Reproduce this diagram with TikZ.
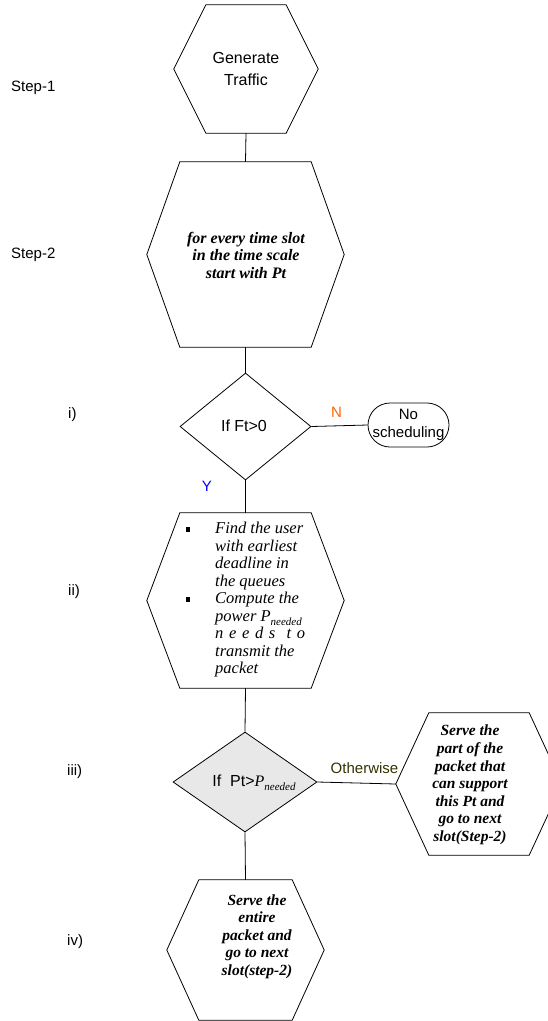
\documentclass[tikz,border=0pt]{standalone}
\usepackage{fontspec}
\setmainfont{Liberation Serif}
\setsansfont{Liberation Sans}
\usetikzlibrary{calc,shapes.geometric}
\newcommand{\hexoutline}[2]{\draw[conn] ($(#1.north west)+(#2,0)$) -- ($(#1.north east)+(-#2,0)$) -- (#1.east) -- ($(#1.south east)+(-#2,0)$) -- ($(#1.south west)+(#2,0)$) -- (#1.west) -- cycle;}
\newcommand{\bul}{\makebox[29pt][l]{\rule[1.5pt]{4pt}{5pt}}}
\newcommand{\ind}{\hspace*{29pt}}
\begin{document}
\begin{tikzpicture}[x=1pt,y=-1pt,
  conn/.style={draw=black, line width=0.8pt},
  hexbox/.style={rectangle, inner sep=0pt, draw=none},
  hextext/.style={align=center, inner sep=0pt, font=\fontsize{15.5}{17.6}\selectfont\bfseries\itshape},
  dia/.style={diamond, inner sep=0pt, conn},
  sanslabel/.style={inner sep=0pt, font=\sffamily\fontsize{15}{17}\selectfont},
  steplabel/.style={sanslabel, anchor=west},
  term/.style={conn, rectangle, rounded corners=22pt, inner sep=0pt, align=center, font=\sffamily\fontsize{15}{18}\selectfont}
]
\useasboundingbox[fill=white] (0,0) rectangle (547,1021);

% step labels
\node[steplabel] (s1) at (11,88) {Step-1};
\node[steplabel] (s2) at (11,255) {Step-2};
\node[steplabel] (s3) at (68,415) {i)};
\node[steplabel] (s4) at (68,592) {ii)};
\node[steplabel] (s5) at (67,772) {iii)};
\node[steplabel] (s6) at (67,942) {iv)};

% hexagon 1
\node[hexbox, minimum width=144, minimum height=128] (h1) at (246,69) {};
\hexoutline{h1}{32}
\node[align=center, inner sep=0pt, font=\sffamily\fontsize{16}{22.5}\selectfont] (t1) at (246,69) {Generate\\Traffic};

% hexagon 2
\node[hexbox, minimum width=197, minimum height=185] (h2) at (245.5,254.5) {};
\hexoutline{h2}{33}
\node[hextext, font=\fontsize{16}{17.5}\selectfont\bfseries\itshape] (t2) at (246,255) {for every time slot\\in the time scale\\start with Pt};

% diamond 1
\node[dia, minimum width=131, minimum height=107] (d1) at (245.5,426.5) {};
\node[sanslabel, font=\sffamily\fontsize{16}{18}\selectfont] (t3) at (244,426) {If Ft>0};

% terminator
\node[term, minimum width=81, minimum height=44] (nos) at (408.5,425) {No\\scheduling};

% hexagon 3
\node[hexbox, minimum width=197, minimum height=175] (h3) at (245.5,600.5) {};
\hexoutline{h3}{33}
\node[anchor=west, align=left, inner sep=0pt, font=\fontsize{16.5}{17.5}\selectfont\itshape] (t4) at (186,600) {%
\bul Find the user\\
\ind with earliest\\
\ind deadline in\\
\ind the queues\\
\bul Compute the\\
\ind power P\raisebox{-4pt}{\fontsize{11}{11}\selectfont needed}\\
\ind\makebox[90pt][s]{n\hfill e\hfill e\hfill d\hfill s\hfill\hfill t\hfill o}\\
\ind transmit the\\
\ind packet};

% diamond 2
\node[dia, fill=black!9, minimum width=144, minimum height=100] (d2) at (245,782) {};
\node[sanslabel, font=\sffamily\fontsize{16}{18}\selectfont] (t5) at (254,783) {If\ \ Pt>{\rmfamily\itshape P}\raisebox{-4pt}{\rmfamily\itshape\fontsize{11}{11}\selectfont needed}};

% hexagon 4
\node[hexbox, minimum width=166, minimum height=142] (h4) at (479,784) {};
\hexoutline{h4}{33}
\node[hextext] (t6) at (470,785) {Serve the\\part of the\\packet that\\can support\\this Pt and\\go to next\\slot(Step-2)};

% hexagon 5
\node[hexbox, minimum width=157, minimum height=140] (h5) at (245.5,950) {};
\hexoutline{h5}{32}
\node[hextext] (t7) at (257,936.5) {Serve the\\entire\\packet and\\go to next\\slot(step-2)};

% connectors
\draw[conn] (h1.south) -- (h2.north);
\draw[conn] (h2.south) -- (d1.north);
\draw[conn] (d1.south) -- (h3.north);
\draw[conn] (h3.south) -- (d2.north);
\draw[conn] (d2.south) -- (h5.north);
\draw[conn] (d1.east) -- (nos.west);
\draw[conn] (d2.east) -- (h4.west);

% branch labels
\node[sanslabel, anchor=west, text={rgb,255:red,255;green,102;blue,0}] (lN) at (331,412) {N};
\node[sanslabel, text={rgb,255:red,0;green,0;blue,255}] (lY) at (207,486) {Y};
\node[sanslabel, text={rgb,255:red,51;green,51;blue,0}] (lO) at (364.5,768) {Otherwise};
\end{tikzpicture}
\end{document}
